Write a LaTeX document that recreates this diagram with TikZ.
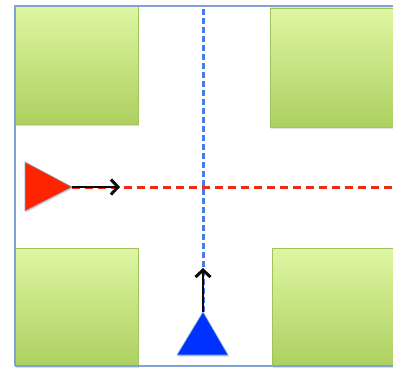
\documentclass[tikz,border=0pt]{standalone}
\usepackage{xcolor}
\usepackage{tikz}
\usetikzlibrary{arrows.meta, shadows}
\definecolor{blocktop}{RGB}{222,246,162}
\definecolor{blockbot}{RGB}{174,208,96}
\definecolor{blockedge}{RGB}{160,196,90}
\definecolor{framblue}{RGB}{128,164,210}
\definecolor{laneblue}{RGB}{72,122,232}
\definecolor{lanered}{RGB}{238,44,20}
\definecolor{carred}{RGB}{255,36,0}
\definecolor{carblue}{RGB}{0,50,255}
\definecolor{mydark}{RGB}{10,10,10}
\tikzset{
  block/.style={rectangle, draw=blockedge, top color=blocktop, bottom color=blockbot,
    minimum width=123pt, minimum height=118pt, inner sep=0pt, line width=0.8pt,
    drop shadow={shadow xshift=1pt, shadow yshift=-1.5pt, opacity=0.25}},
  frame/.style={draw=framblue, line width=1.6pt},
  bluelane/.style={draw=laneblue, line width=3pt, dash pattern=on 6pt off 3pt},
  redlane/.style={draw=lanered, line width=3pt, dash pattern=on 8pt off 5pt},
  redcar/.style={fill=carred, draw=framblue, line width=0.6pt,
    drop shadow={shadow xshift=1pt, shadow yshift=-1.5pt, opacity=0.3}},
  bluecar/.style={fill=carblue, draw=framblue, line width=0.6pt,
    drop shadow={shadow xshift=1pt, shadow yshift=-1.5pt, opacity=0.3}},
  arrow/.style={-{Straight Barb[length=7pt, width=15pt, line width=3pt]}, line width=2.8pt, color=mydark}
}
\begin{document}
\begin{tikzpicture}[x=1pt, y=-1pt]
  \useasboundingbox (0,0) rectangle (393,369);
  \clip (0,0) rectangle (393,369);

  % Blocks
  \node[block] (tl) at (76.5,65)   {};
  \node[block, minimum height=119pt] (tr) at (331.5,67.5) {};
  \node[block] (bl) at (76.5,307)  {};
  \node[block] (br) at (333.5,307) {};

  % Frame
  \draw[frame] (15,366) -- (15,6) -- (400,6);
  \draw[frame] (15,366) -- (400,366);

  % Lanes
  \coordinate (rtip) at (72,187);
  \coordinate (btip) at (203,312);
  \coordinate (rend) at (400,187);
  \coordinate (bend) at (203,6);
  \coordinate (rhead) at (120,187);
  \coordinate (bhead) at (203,268);
  \draw[redlane] (rtip) -- (rend);
  \draw[bluelane] (btip) -- (bend);

  % Cars
  \path[redcar] (25,162) -- (rtip) -- (25,211) -- cycle;
  \path[bluecar] (177,355) -- (btip) -- (228,355) -- cycle;

  % Heading arrows
  \draw[arrow] (rtip) -- (rhead);
  \draw[arrow] (btip) -- (bhead);
\end{tikzpicture}
\end{document}
